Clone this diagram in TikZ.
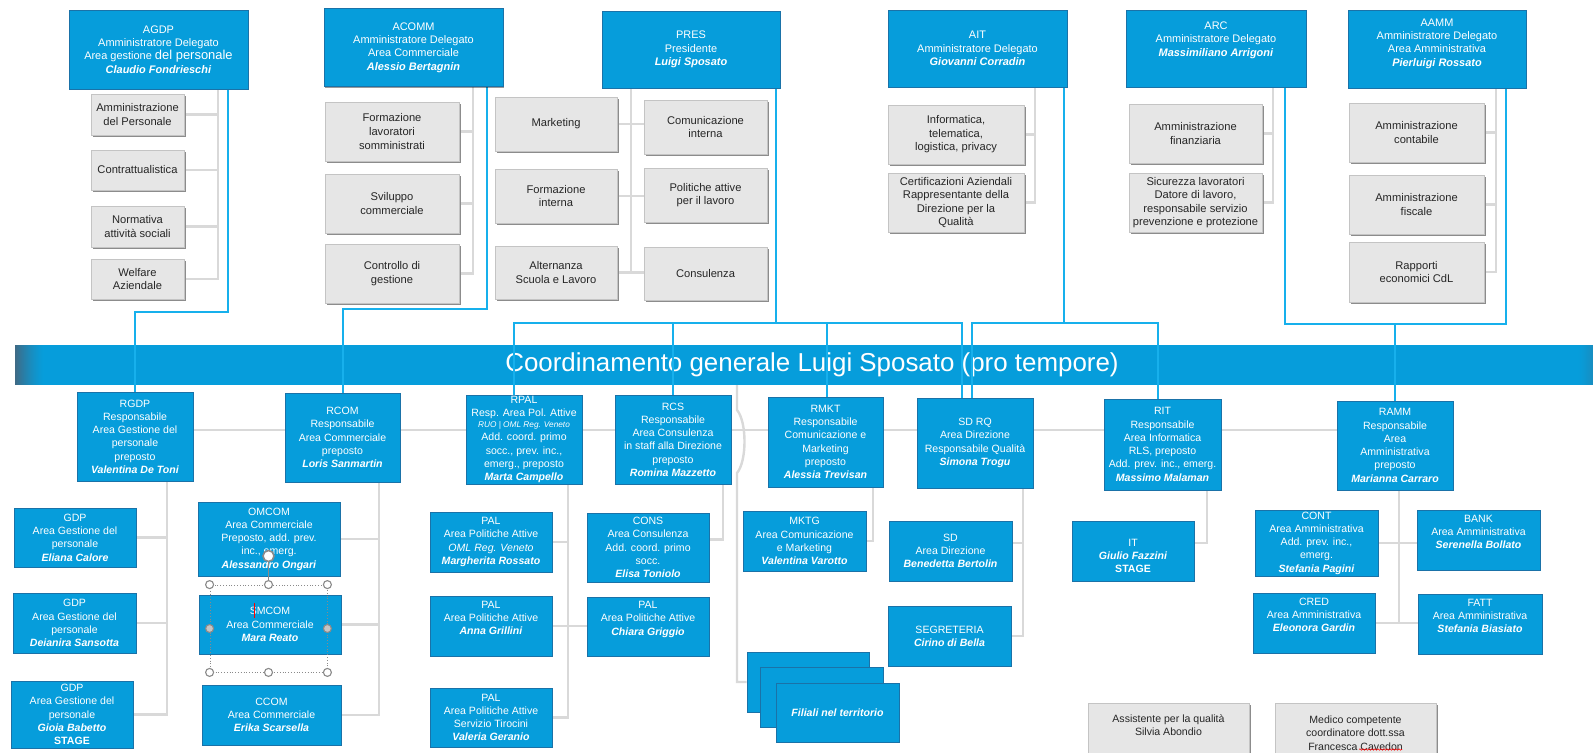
\documentclass[tikz,border=0pt]{standalone}
\usepackage{fontspec}
\setmainfont{Liberation Sans}
\usetikzlibrary{shadows,decorations.pathmorphing}
\pgfdeclarelayer{bg}
\pgfdeclarelayer{mid}
\pgfsetlayers{bg,mid,main}
\definecolor{bfill}{HTML}{069DDB}
\definecolor{bedge}{HTML}{1A72A8}
\definecolor{bconn}{HTML}{17B0EC}
\definecolor{gconn}{HTML}{D9D9D9}
\definecolor{gfill}{HTML}{E6E6E6}
\definecolor{gedge}{HTML}{C4C4C4}
\definecolor{gshadow}{HTML}{8C8C8C}
\definecolor{gtext}{HTML}{262626}
\definecolor{bardark}{HTML}{3F6A85}
\definecolor{selgray}{HTML}{8A8A8A}
\newcommand\nm[1]{\textbf{\textit{#1}}}
\tikzset{
  bluebox/.style={rectangle, fill=bfill, draw=bedge, line width=0.9bp, text=white, align=center, inner sep=0pt,
    font=\fontsize{10.6}{13.3}\selectfont,
    drop shadow={shadow xshift=1.3bp, shadow yshift=-1.3bp, fill=black, opacity=0.4}},
  topbox/.style={bluebox, font=\fontsize{11}{13.4}\selectfont},
  graybox/.style={rectangle, fill=gfill, draw=gedge, line width=0.8bp, text=gtext, align=center, inner sep=0pt,
    font=\fontsize{11.2}{13.6}\selectfont,
    drop shadow={shadow xshift=1.6bp, shadow yshift=-1.6bp, fill=gshadow, opacity=1}},
  gl/.style={draw=gconn, line width=2.4bp},
  bl/.style={draw=bconn, line width=2bp},
  barbox/.style={rectangle, fill=bfill, inner sep=0pt, text=white, font=\fontsize{26}{30}\selectfont},
  hdl/.style={circle, draw=selgray, fill=white, line width=1.1bp, minimum size=8bp, inner sep=0pt},
}
\begin{document}
\begin{tikzpicture}[x=1bp,y=-1bp]
\useasboundingbox (0,0) rectangle (1593,753);
\begin{pgfonlayer}{bg}
\fill[white] (0,0) rectangle (1593,753);
\end{pgfonlayer}

% ---------- top row ----------
\node[topbox, minimum width=179bp, minimum height=79bp] (agdp) at (158.5,49.5) {AGDP\\Amministratore Delegato\\Area gestione {\fontsize{13}{14}\selectfont del personale}\\\nm{Claudio Fondrieschi}};
\node[topbox, minimum width=179bp, minimum height=78bp] (acomm) at (413.5,47.5) {ACOMM\\Amministratore Delegato\\Area Commerciale\\\nm{Alessio Bertagnin}};
\node[topbox, minimum width=178bp, minimum height=77bp] (pres) at (691,49.5) {PRES\\Presidente\\\nm{Luigi Sposato}};
\node[topbox, minimum width=179bp, minimum height=77bp] (ait) at (977.5,48.5) {AIT\\Amministratore Delegato\\\nm{Giovanni Corradin}};
\node[topbox, minimum width=180bp, minimum height=77bp] (arc) at (1216,48.5) {ARC\\Amministratore Delegato\\\nm{Massimiliano Arrigoni}\\[6bp]\mbox{}};
\node[topbox, minimum width=178bp, minimum height=78bp] (aamm) at (1437,49) {AAMM\\Amministratore Delegato\\Area Amministrativa\\\nm{Pierluigi Rossato}\\\mbox{}};

% ---------- gray sub boxes ----------
\node[graybox, minimum width=93bp, minimum height=41bp] (ag1) at (137.5,114.5) {Amministrazione\\del Personale};
\node[graybox, minimum width=93bp, minimum height=40bp] (ag2) at (137.5,170) {Contrattualistica};
\node[graybox, minimum width=93bp, minimum height=41bp] (ag3) at (137.5,226.5) {Normativa\\attività sociali};
\node[graybox, minimum width=93bp, minimum height=40bp] (ag4) at (137.5,279) {Welfare\\Aziendale};

\node[graybox, minimum width=134bp, minimum height=59bp] (ac1) at (392,131.5) {Formazione\\lavoratori\\somministrati};
\node[graybox, minimum width=134bp, minimum height=59bp] (ac2) at (392,203.5) {Sviluppo\\commerciale};
\node[graybox, minimum width=134bp, minimum height=59bp] (ac3) at (392,273.5) {Controllo di\\gestione};

\node[graybox, minimum width=122bp, minimum height=54bp] (pl1) at (556,124) {Marketing};
\node[graybox, minimum width=122bp, minimum height=54bp] (pl2) at (556,196) {Formazione\\interna};
\node[graybox, minimum width=122bp, minimum height=53bp] (pl3) at (556,272.5) {Alternanza\\Scuola e Lavoro};
\node[graybox, minimum width=123bp, minimum height=54bp] (pr1) at (705.5,127) {Comunicazione\\interna};
\node[graybox, minimum width=123bp, minimum height=54bp] (pr2) at (705.5,195) {Politiche attive\\per il lavoro};
\node[graybox, minimum width=123bp, minimum height=53bp] (pr3) at (705.5,273.5) {Consulenza};

\node[graybox, minimum width=136bp, minimum height=59bp] (ai1) at (956,134.5) {Informatica,\\telematica,\\logistica, privacy};
\node[graybox, minimum width=136bp, minimum height=59bp] (ai2) at (956,202.5) {Certificazioni Aziendali\\Rappresentante della\\Direzione per la\\Qualità};

\node[graybox, minimum width=133bp, minimum height=59bp] (ar1) at (1195.5,133.5) {Amministrazione\\finanziaria};
\node[graybox, minimum width=133bp, minimum height=59bp] (ar2) at (1195.5,202.5) {Sicurezza lavoratori\\Datore di lavoro,\\responsabile servizio\\prevenzione e protezione};

\node[graybox, minimum width=135bp, minimum height=59bp] (am1) at (1416.5,132.5) {Amministrazione\\contabile};
\node[graybox, minimum width=135bp, minimum height=59bp] (am2) at (1416.5,204.5) {Amministrazione\\fiscale};
\node[graybox, minimum width=135bp, minimum height=60bp] (am3) at (1416.5,272) {Rapporti\\economici CdL};

% ---------- bar ----------
\begin{pgfonlayer}{bg}
\node[barbox, minimum width=1578bp, minimum height=40bp] (coord) at (804,365) {};
\foreach \i in {0,...,29} {
  \pgfmathsetmacro\p{100*(1-\i/29)^1.4}
  \fill[bardark!\p!bfill] ([xshift={\i*1bp}]coord.north west) rectangle ([xshift={\i*1bp+1.1bp}]coord.south west);
}
\foreach \i in {0,...,15} {
  \pgfmathsetmacro\p{30*(\i/15)^1.4}
  \fill[bardark!\p!bfill] ([xshift={-16bp+\i*1bp}]coord.north east) rectangle ([xshift={-16bp+\i*1bp+1.1bp}]coord.south east);
}
\node[text=white, font=\fontsize{26}{30}\selectfont, inner sep=0pt] (coordtxt) at (812,365) {Coordinamento generale Luigi Sposato (pro tempore)};
\end{pgfonlayer}

% ---------- second row ----------
\node[bluebox, minimum width=116bp, minimum height=89bp] (rgdp) at (135,436.5) {RGDP\\Responsabile\\Area Gestione del\\personale\\preposto\\\nm{Valentina De Toni}};
\node[bluebox, minimum width=115bp, minimum height=89bp] (rcom) at (342.5,437.5) {RCOM\\Responsabile\\Area Commerciale\\preposto\\\nm{Loris Sanmartin}};
\node[bluebox, minimum width=116bp, minimum height=89bp] (rpal) at (524,439.5) {RPAL\\Resp. Area Pol. Attive\\[-2.5bp]{\fontsize{8.3}{9}\selectfont\itshape RUO | OML Reg. Veneto}\\Add. coord. primo\\socc., prev. inc.,\\emerg., preposto\\\nm{Marta Campello}};
\node[bluebox, minimum width=116bp, minimum height=89bp] (rcs) at (673,439.5) {RCS\\Responsabile\\Area Consulenza\\in staff alla Direzione\\preposto\\\nm{Romina Mazzetto}};
\node[bluebox, minimum width=115bp, minimum height=90bp] (rmkt) at (825.5,442) {RMKT\\Responsabile\\Comunicazione e\\Marketing\\preposto\\\nm{Alessia Trevisan}};
\node[bluebox, minimum width=116bp, minimum height=90bp] (sdrq) at (975,443) {SD RQ\\Area Direzione\\Responsabile Qualità\\\nm{Simona Trogu}};
\node[bluebox, minimum width=117bp, minimum height=91bp] (rit) at (1162.5,444.5) {RIT\\Responsabile\\Area Informatica\\RLS, preposto\\Add. prev. inc., emerg.\\\nm{Massimo Malaman}};
\node[bluebox, minimum width=116bp, minimum height=89bp] (ramm) at (1395,445.5) {RAMM\\Responsabile\\Area\\Amministrativa\\preposto\\\nm{Marianna Carraro}};

% ---------- third level ----------
\node[bluebox, minimum width=122bp, minimum height=59bp] (gdp1) at (75,537.5) {GDP\\Area Gestione del\\personale\\\nm{Eliana Calore}};
\node[bluebox, minimum width=123bp, minimum height=60bp] (gdp2) at (74.5,623) {GDP\\Area Gestione del\\personale\\\nm{Deianira Sansotta}};
\node[bluebox, minimum width=122bp, minimum height=67bp] (gdp3) at (72,714.5) {GDP\\Area Gestione del\\personale\\\nm{Gioia Babetto}\\\textbf{STAGE}};

\node[bluebox, minimum width=142bp, minimum height=74bp] (omcom) at (269,539) {OMCOM\\Area Commerciale\\Preposto, add. prev.\\inc., emerg.\\\nm{Alessandro Ongari}};
\node[bluebox, minimum width=142bp, minimum height=59bp] (smcom) at (270,624.5) {SMCOM\\Area Commerciale\\\nm{Mara Reato}};
\node[bluebox, minimum width=139bp, minimum height=60bp] (ccom) at (271.5,715) {CCOM\\Area Commerciale\\\nm{Erika Scarsella}};

\node[bluebox, minimum width=122bp, minimum height=60bp] (pal1) at (491,542) {PAL\\Area Politiche Attive\\\textit{OML Reg. Veneto}\\\nm{Margherita Rossato}};
\node[bluebox, minimum width=122bp, minimum height=60bp] (pal2) at (491,626) {PAL\\Area Politiche Attive\\\nm{Anna Grillini}\\[3.5bp]\mbox{}};
\node[bluebox, minimum width=122bp, minimum height=59bp] (pal3) at (491,717.5) {PAL\\Area Politiche Attive\\Servizio Tirocini\\\nm{Valeria Geranio}};
\node[bluebox, minimum width=122bp, minimum height=69bp] (cons) at (648,547.5) {CONS\\Area Consulenza\\Add. coord. primo\\socc.\\\nm{Elisa Toniolo}};
\node[bluebox, minimum width=122bp, minimum height=59bp] (pal4) at (648,626.5) {PAL\\Area Politiche Attive\\\nm{Chiara Griggio}\\[3.5bp]\mbox{}};

\node[bluebox, minimum width=123bp, minimum height=60bp] (mktg) at (804.5,541) {MKTG\\Area Comunicazione\\e Marketing\\\nm{Valentina Varotto}};
\node[bluebox, minimum width=123bp, minimum height=60bp] (sd) at (950.5,551) {SD\\Area Direzione\\\nm{Benedetta Bertolin}};
\node[bluebox, minimum width=123bp, minimum height=60bp] (segr) at (949.5,636) {SEGRETERIA\\\nm{Cirino di Bella}};
\node[bluebox, minimum width=122bp, minimum height=60bp] (it) at (1133,551) {\mbox{}\\[4bp]IT\\\nm{Giulio Fazzini}\\\textbf{STAGE}};

\node[bluebox, minimum width=123bp, minimum height=66bp] (cont) at (1316.5,543) {CONT\\Area Amministrativa\\Add. prev. inc.,\\emerg.\\\nm{Stefania Pagini}};
\node[bluebox, minimum width=123bp, minimum height=60bp] (bank) at (1478.5,540) {BANK\\Area Amministrativa\\\nm{Serenella Bollato}\\[3.5bp]\mbox{}};
\node[bluebox, minimum width=122bp, minimum height=60bp] (cred) at (1314,623) {CRED\\Area Amministrativa\\\nm{Eleonora Gardin}\\[3.5bp]\mbox{}};
\node[bluebox, minimum width=124bp, minimum height=60bp] (fatt) at (1480,624) {FATT\\Area Amministrativa\\\nm{Stefania Biasiato}\\[3.5bp]\mbox{}};

\node[bluebox, minimum width=122bp, minimum height=60bp] (fil1) at (808,682) {};
\node[bluebox, minimum width=123bp, minimum height=60bp] (fil2) at (821.5,697) {};
\node[bluebox, minimum width=123bp, minimum height=59bp] (fil3) at (837.5,712.5) {\nm{Filiali nel territorio}};

\node[graybox, minimum width=161bp, minimum height=60bp, font=\fontsize{10.6}{13.3}\selectfont] (assist) at (1168.5,733) {Assistente per la qualità\\Silvia Abondio\\[3bp]\mbox{}};
\node[graybox, minimum width=161bp, minimum height=60bp, font=\fontsize{10.6}{13.3}\selectfont] (medico) at (1355.5,733) {Medico competente\\coordinatore dott.ssa\\Francesca Cavedon};
\draw[red, line width=0.6bp, decorate, decoration={snake, amplitude=0.7bp, segment length=3bp}] (1359,749.5) -- (1402,749.5);

% ---------- selection handles (editing artefacts) ----------
\node[draw=selgray, dotted, line width=0.8bp, minimum width=117bp, minimum height=87bp, inner sep=0pt] (sel) at (268.5,628.5) {};
\coordinate (rotc) at (268.5,556);
\draw[selgray, line width=0.8bp] (sel.north) -- (rotc);
\node[hdl, minimum size=11bp, line width=1.6bp] (hrot) at (rotc) {};
\node[hdl] (h1) at (sel.north west) {};
\node[hdl] (h2) at (sel.north) {};
\node[hdl] (h3) at (sel.north east) {};
\node[hdl] (h4) at (sel.south west) {};
\node[hdl] (h5) at (sel.south) {};
\node[hdl] (h6) at (sel.south east) {};
\node[hdl, fill=selgray!50] (h7) at (sel.west) {};
\node[hdl, fill=selgray!50] (h8) at (sel.east) {};
\draw[red, line width=0.6bp] (254,603) -- (254,618);

% ---------- gray connectors ----------
\begin{pgfonlayer}{bg}
\coordinate (agT) at (218,0);
\draw[gl] (agdp.south -| agT) |- (ag4.east);
\foreach \n in {ag1,ag2,ag3} \draw[gl] (\n.east) -- (\n.east -| agT);
\coordinate (acT) at (473,0);
\draw[gl] (acomm.south -| acT) |- (ac3.east);
\foreach \n in {ac1,ac2} \draw[gl] (\n.east) -- (\n.east -| acT);
\coordinate (prT) at (631,0);
\draw[gl] (pres.south -| prT) -- (prT |- pl3.east);
\draw[gl] (pl1.east) -- (pr1.west |- pl1.east);
\draw[gl] (pl2.east) -- (pr2.west |- pl2.east);
\draw[gl] (pl3.east) -- (pr3.west |- pl3.east);
\coordinate (aiT) at (1035,0);
\draw[gl] (ait.south -| aiT) |- (ai2.east);
\draw[gl] (ai1.east) -- (ai1.east -| aiT);
\coordinate (arT) at (1273,0);
\draw[gl] (arc.south -| arT) |- (ar2.east);
\draw[gl] (ar1.east) -- (ar1.east -| arT);
\coordinate (amT) at (1496,0);
\draw[gl] (aamm.south -| amT) |- (am3.east);
\foreach \n in {am1,am2} \draw[gl] (\n.east) -- (\n.east -| amT);

\coordinate (hlY) at (0,430);
\draw[gl] (rgdp.east |- hlY) -- (ramm.west |- hlY);
\coordinate (rgT) at (167,0);
\draw[gl] (rgdp.south -| rgT) |- (gdp3.east);
\foreach \n in {gdp1,gdp2} \draw[gl] (\n.east) -- (\n.east -| rgT);
\coordinate (rcT) at (379,0);
\draw[gl] (rcom.south -| rcT) |- (ccom.east);
\foreach \n in {omcom,smcom} \draw[gl] (\n.east) -- (\n.east -| rcT);
\coordinate (rpT) at (568,0);
\draw[gl] (rpal.south -| rpT) |- (pal3.east);
\draw[gl] (pal1.east) -- (pal1.east -| rpT);
\draw[gl] (pal2.east) -- (pal4.west |- pal2.east);
\coordinate (csT) at (723,0);
\draw[gl] (rcs.south -| csT) |- ([yshift=8bp]cons.east);
\coordinate (mkT) at (873,0);
\draw[gl] (rmkt.south -| mkT) |- (mktg.east);
\coordinate (sdT) at (1023,0);
\draw[gl] (sdrq.south -| sdT) |- (segr.east);
\draw[gl] ([yshift=8bp]sd.east) -- ([yshift=8bp]sd.east -| sdT);
\coordinate (itT) at (1207,0);
\draw[gl] (rit.south -| itT) |- ([yshift=8bp]it.east);
\coordinate (rmT) at (1399,0);
\draw[gl] (ramm.south -| rmT) -- (rmT |- cred.east);
\draw[gl] (cont.east) -- (bank.west |- cont.east);
\draw[gl] (cred.east) -- (fatt.west |- cred.east);
\coordinate (jA) at (737,410);
\coordinate (jB) at (737,473);
\coordinate (fT) at (737,682);
\draw[gl] (coord.south -| jA) -- (jA) .. controls (747,422) and (747,461) .. (jB) -- (fT) -- (fil1.west);
\end{pgfonlayer}

% ---------- blue connectors ----------
\begin{pgfonlayer}{mid}
\coordinate (agB) at (228,312);
\draw[bl] (agdp.south -| agB) -- (agB) -- (agB -| rgdp.north) -- (rgdp.north);
\coordinate (acB) at (487,309);
\draw[bl] (acomm.south -| acB) -- (acB) -- (acB -| rcom.north) -- (rcom.north);
\coordinate (prB) at (776,323);
\draw[bl] (pres.south -| prB) -- (prB);
\draw[bl] ([xshift=-10bp]rpal.north) |- ([xshift=-13bp]sdrq.north |- prB) -- ([xshift=-13bp]sdrq.north);
\draw[bl] (rcs.north) -- (rcs.north |- prB);
\draw[bl] ([xshift=1.5bp]rmkt.north) -- ([xshift=1.5bp]rmkt.north |- prB);
\coordinate (aiB) at (1064,323);
\draw[bl] (ait.south -| aiB) -- (aiB);
\draw[bl] ([xshift=-3bp]sdrq.north) |- ([xshift=-4.5bp]rit.north |- aiB) -- ([xshift=-4.5bp]rit.north);
\coordinate (arB) at (1285,324);
\coordinate (amB) at (1506,324);
\draw[bl] (arc.south -| arB) -- (arB) -- (amB) -- (aamm.south -| amB);
\draw[bl] (ramm.north) -- (ramm.north |- arB);
\end{pgfonlayer}
\end{tikzpicture}
\end{document}
